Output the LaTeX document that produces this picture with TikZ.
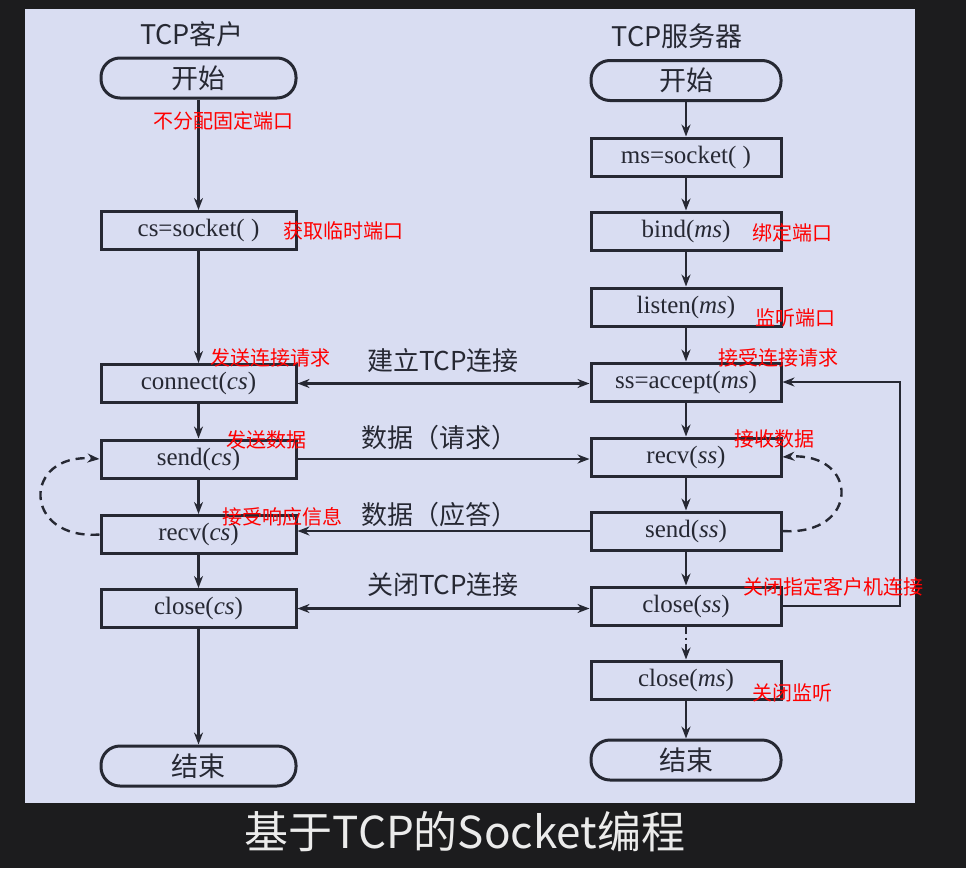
\documentclass[tikz,border=0pt]{standalone}
\usepackage{fontspec}
\setmainfont{Liberation Serif}
\newfontfamily\cjk{Noto Sans CJK SC}
\usetikzlibrary{arrows.meta}
\definecolor{panel}{HTML}{D9DDF2}
\definecolor{ink}{HTML}{262833}
\definecolor{bgdark}{HTML}{1C1C1E}
\begin{document}
\begin{tikzpicture}[x=1pt,y=-1pt,
  box/.style={draw=ink,line width=3pt,fill=panel,minimum width=#1,minimum height=38pt,inner sep=0pt,text=ink,font=\fontsize{25}{25}\selectfont},
  box/.default=190pt,
  term/.style={draw=ink,line width=3pt,fill=panel,rounded corners=19pt,minimum width=#1,minimum height=40pt,inner sep=0pt,text=ink,font=\cjk\fontsize{27}{27}\selectfont},
  term/.default=190pt,
  flow/.style={draw=ink,line width=2.4pt,-{Stealth[length=12pt,width=9pt]}},
  both/.style={draw=ink,line width=2.4pt,{Stealth[length=12pt,width=9pt]}-{Stealth[length=12pt,width=9pt]}},
  loopdash/.style={draw=ink,line width=2.4pt,dash pattern=on 9pt off 6pt,-{Stealth[length=12pt,width=9pt]}},
  note/.style={text=red,anchor=west,inner sep=0pt,font=\cjk\fontsize{20}{20}\selectfont},
  msg/.style={text=ink,inner sep=0pt,font=\cjk\fontsize{26}{26}\selectfont},
  title/.style={text=ink,inner sep=0pt,font=\cjk\fontsize{27}{27}\selectfont}]
\useasboundingbox (0,0) rectangle (966,868);
\fill[bgdark] (0,0) rectangle (966,868);
\fill[panel] (25,9) rectangle (915,803);

% titles
\node[title] (tc) at (192,34) {TCP客户};
\node[title] (ts) at (677,36) {TCP服务器};

% client column
\node[term=195pt] (cstart) at (198.5,78) {开始};
\node[box=195pt] (csock) at (198.5,230.5) {cs=socket( )};
\node[box=195pt] (cconn) at (198.5,383.5) {connect(\textit{cs})};
\node[box=195pt] (csend) at (198.5,459) {send(\textit{cs})};
\node[box=195pt] (crecv) at (198.5,534.5) {recv(\textit{cs})};
\node[box=195pt] (cclose) at (198.5,608.5) {close(\textit{cs})};
\node[term=195pt] (cend) at (198.5,766) {结束};

% server column
\node[term] (sstart) at (686,80.5) {开始};
\node[box] (ssock) at (686,157) {ms=socket( )};
\node[box] (sbind) at (686,231) {bind(\textit{ms})};
\node[box] (slisten) at (686,307) {listen(\textit{ms})};
\node[box] (saccept) at (686,382) {ss=accept(\textit{ms})};
\node[box] (srecv) at (686,457) {recv(\textit{ss})};
\node[box] (ssend) at (686,531) {send(\textit{ss})};
\node[box] (sclose) at (686,606) {close(\textit{ss})};
\node[box] (sclosems) at (686,680) {close(\textit{ms})};
\node[term] (send) at (686,760) {结束};

% vertical flow client
\draw[flow] (cstart) -- (csock);
\draw[flow] (csock) -- (cconn);
\draw[flow] (cconn) -- (csend);
\draw[flow] (csend) -- (crecv);
\draw[flow] (crecv) -- (cclose);
\draw[flow] (cclose) -- (cend);

% vertical flow server
\draw[flow] (sstart) -- (ssock);
\draw[flow] (ssock) -- (sbind);
\draw[flow] (sbind) -- (slisten);
\draw[flow] (slisten) -- (saccept);
\draw[flow] (saccept) -- (srecv);
\draw[flow] (srecv) -- (ssend);
\draw[flow] (ssend) -- (sclose);
\draw[flow,dash pattern=on 7pt off 4pt on 2pt off 4pt] (sclose) -- (sclosems);
\draw[flow] (sclosems) -- (send);

% horizontal messages
\draw[both] (cconn.east) -- (cconn.east -| saccept.west);
\draw[flow] (csend.east) -- (csend.east -| srecv.west);
\draw[flow] (ssend.west) -- (ssend.west -| crecv.east);
\draw[both] (cclose.east) -- (cclose.east -| sclose.west);

\node[msg] (m1) at (443,361) {建立TCP连接};
\node[msg] (m2) at (439,438) {数据（请求）};
\node[msg] (m3) at (439,515) {数据（应答）};
\node[msg] (m4) at (443,585) {关闭TCP连接};

% loop back from close(ss) to accept
\coordinate (lp) at (900,606);
\draw[flow] (sclose.east) -- (lp) |- (saccept.east);

% dashed repetition loops
\draw[loopdash] (crecv.west) .. controls (22,540) and (22,453) .. (csend.west);
\draw[loopdash] (ssend.east) .. controls (860,536) and (860,452) .. (srecv.east);

% red annotations
\node[note] (n1) at (153,121) {不分配固定端口};
\node[note] (n2) at (283,231) {获取临时端口};
\node[note] (n3) at (752,233) {绑定端口};
\node[note] (n4) at (755,318) {监听端口};
\node[note] (n5) at (210,358) {发送连接请求};
\node[note] (n6) at (718,358) {接受连接请求};
\node[note] (n7) at (226,440) {发送数据};
\node[note] (n8) at (734,439) {接收数据};
\node[note] (n9) at (222,517) {接受响应信息};
\node[note] (n10) at (743,587) {关闭指定客户机连接};
\node[note] (n11) at (752,693) {关闭监听};

% caption
\node[text=white!92!black,font=\cjk\fontsize{44}{44}\selectfont,inner sep=0pt] (cap) at (465,832) {基于TCP的Socket编程};
\end{tikzpicture}
\end{document}
